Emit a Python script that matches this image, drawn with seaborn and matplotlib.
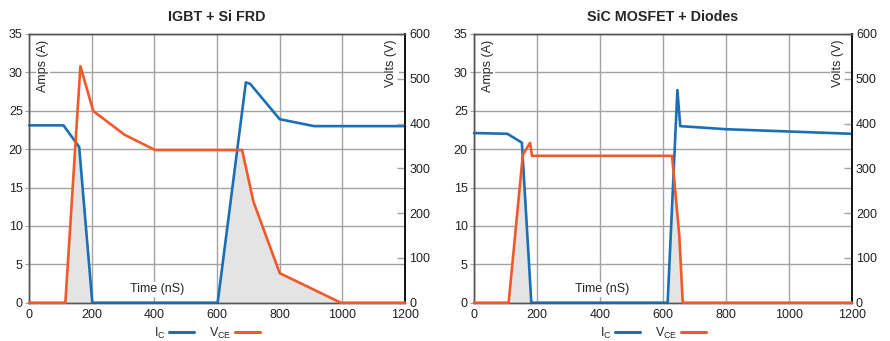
import numpy as np
import pandas as pd
import matplotlib
matplotlib.use("Agg")
import matplotlib.pyplot as plt
from matplotlib.lines import Line2D
import seaborn as sns

# IGBT + Si FRD
igbt_ic_t = [0, 110, 160, 202, 602, 692, 706, 800, 910, 1200]
igbt_ic_a = [23.1, 23.1, 20.3, 0, 0, 28.7, 28.5, 23.9, 23.0, 23.0]
igbt_vce_t = [0, 116, 164, 205, 305, 402, 680, 716, 800, 995, 1200]
igbt_vce_v = [0, 0, 528, 428, 375, 341, 341, 226, 66, 0, 0]

# SiC MOSFET + Diodes
sic_ic_t = [0, 106, 152, 182, 615, 646, 655, 800, 1000, 1200]
sic_ic_a = [22.1, 22.0, 20.85, 0, 0, 27.7, 23.0, 22.6, 22.3, 22.0]
sic_vce_t = [0, 110, 155, 178, 184, 629, 652, 663, 1200]
sic_vce_v = [0, 0, 330, 357, 328, 328, 150, 0, 0]

titles = ["IGBT + Si FRD", "SiC MOSFET + Diodes"]
amp_ticks = [0, 5, 10, 15, 20, 25, 30, 35]
volt_ticks = [0, 100, 200, 300, 400, 500, 600]
time_ticks = [0, 200, 400, 600, 800, 1000, 1200]

BLUE = "#1b6fb7"
ORANGE = "#f2592a"
GRID = "#a3a3a3"

sns.set_style("white")
plt.rcParams["font.family"] = ["Liberation Sans", "DejaVu Sans"]
plt.rcParams["mathtext.default"] = "regular"

fig = plt.figure(figsize=(8.9, 3.41), dpi=100)
positions = [[0.0326, 0.1123, 0.4225, 0.788], [0.5326, 0.1123, 0.4245, 0.788]]
panels = [(igbt_ic_t, igbt_ic_a, igbt_vce_t, igbt_vce_v),
          (sic_ic_t, sic_ic_a, sic_vce_t, sic_vce_v)]

for pos, title, (ict, ica, vt, vv) in zip(positions, titles, panels):
    ax = fig.add_axes(pos)
    ax2 = ax.twinx()

    # shaded overlap (switching loss) region, below both curves
    tt = np.linspace(0, 1200, 4801)
    ic_i = np.interp(tt, ict, ica)
    v_i = np.interp(tt, vt, np.array(vv) * 35 / 600)
    ax.fill_between(tt, 0, np.minimum(ic_i, v_i), color="#e4e4e4",
                    edgecolor="#c8c8c8", linewidth=0.5, zorder=1)

    df_i = pd.DataFrame({"t": ict, "a": ica})
    df_v = pd.DataFrame({"t": vt, "v": vv})
    sns.lineplot(data=df_i, x="t", y="a", ax=ax, color=BLUE, lw=1.9,
                 estimator=None, sort=False, zorder=3, clip_on=False)
    sns.lineplot(data=df_v, x="t", y="v", ax=ax2, color=ORANGE, lw=1.9,
                 estimator=None, sort=False, zorder=3, clip_on=False)

    ax.set_xlim(0, 1200)
    ax.set_ylim(0, 35)
    ax2.set_ylim(0, 600)
    ax.set_xticks(time_ticks)
    ax.set_yticks(amp_ticks)
    ax2.set_yticks(volt_ticks)
    ax.set_xlabel("")
    ax.set_ylabel("")
    ax2.set_ylabel("")

    ax.grid(True, color=GRID, lw=1.0, zorder=0)
    ax.set_axisbelow(True)
    ax.tick_params(axis="both", labelsize=9, colors="#222222", length=3,
                   width=0.8, pad=1.5, left=True, bottom=False)
    ax.tick_params(axis="y", color=GRID)
    ax2.tick_params(axis="y", labelsize=9, colors="#222222", direction="in",
                    length=6, width=1.0, pad=3, color=GRID)
    ax2.tick_params(axis="y", labelcolor="#222222")
    for a in (ax, ax2):
        for side in ["left", "top", "bottom"]:
            a.spines[side].set_color("#555555")
            a.spines[side].set_linewidth(1.0)
        a.spines["right"].set_color("#111111")
        a.spines["right"].set_linewidth(1.2)

    bb = dict(facecolor="white", edgecolor="none", pad=1.0)
    ax.text(0.037, 0.978, "Amps (A)", rotation=90, ha="center", va="top",
            fontsize=9, transform=ax.transAxes, bbox=bb, zorder=2)
    ax.text(0.963, 0.978, "Volts (V)", rotation=90, ha="center", va="top",
            fontsize=9, transform=ax.transAxes, bbox=bb, zorder=2)
    ax.text(0.34, 0.05, "Time (nS)", ha="center", va="center",
            fontsize=9, transform=ax.transAxes, bbox=bb, zorder=2)

    ax.set_title(title, fontsize=10.3, fontweight="bold", pad=9)

    handles = [Line2D([], [], color=BLUE, lw=2.2),
               Line2D([], [], color=ORANGE, lw=2.2)]
    ax2.legend(handles, ["I$_C$", "V$_{CE}$"], ncol=2, frameon=False,
               markerfirst=False, loc="center", bbox_to_anchor=(0.473, -0.113),
               fontsize=9, handlelength=2.0, handletextpad=0.3,
               columnspacing=1.2, borderpad=0)

fig.savefig("out.png", dpi=100)
